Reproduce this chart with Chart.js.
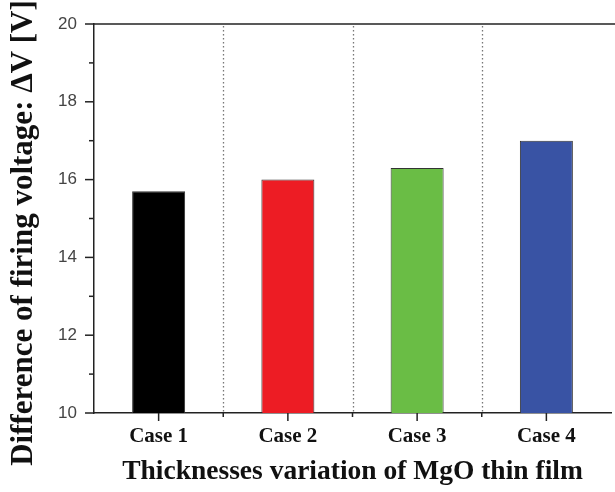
<!DOCTYPE html>
<html><head><meta charset="utf-8">
<script src="https://cdn.jsdelivr.net/npm/chart.js@4"></script>
<style>html,body{margin:0;padding:0;background:#fff}#wrap{width:615px;height:492px;position:relative}</style>
</head><body><div id="wrap"><canvas id="c"></canvas></div>
<script>
const categories = ['Case 1', 'Case 2', 'Case 3', 'Case 4'];
const deltaV = [15.7, 16.0, 16.3, 17.0];
const barColors = ['#000000', '#ED1C24', '#6ABD45', '#3953A4'];
const yTicks = [10, 12, 14, 16, 18, 20];
const yMinorTicks = [11, 13, 15, 17, 19];
const xTitle = 'Thicknesses variation of MgO thin film';
const yTitle = 'Difference of firing voltage: \u0394V [V]';

function line(ctx, x1, y1, x2, y2) {
  ctx.beginPath(); ctx.moveTo(x1, y1); ctx.lineTo(x2, y2); ctx.stroke();
}

const decor = {
  id: 'decor',
  afterDraw(chart) {
    const {ctx, chartArea: a, scales: {x, y}} = chart;
    ctx.save();
    // dotted category separators
    ctx.strokeStyle = '#777'; ctx.lineWidth = 1.3; ctx.setLineDash([1.4, 2.6]);
    for (let i = 0; i < categories.length - 1; i++) {
      const px = Math.round((x.getPixelForValue(i) + x.getPixelForValue(i + 1)) / 2) + 0.5;
      line(ctx, px, a.top + 2, px, a.bottom);
    }
    ctx.setLineDash([]);
    ctx.strokeStyle = '#222'; ctx.lineWidth = 1.5;
    // top border
    line(ctx, a.left, a.top, chart.width, a.top);
    // y ticks
    yTicks.forEach(v => { const py = y.getPixelForValue(v); line(ctx, a.left - 9, py, a.left, py); });
    yMinorTicks.forEach(v => { const py = y.getPixelForValue(v); line(ctx, a.left - 5, py, a.left, py); });
    // x ticks
    categories.forEach((c, i) => { const px = x.getPixelForValue(i); line(ctx, px, a.bottom, px, a.bottom + 8); });
    for (let i = 0; i < categories.length - 1; i++) {
      const px = (x.getPixelForValue(i) + x.getPixelForValue(i + 1)) / 2;
      line(ctx, px, a.bottom, px, a.bottom + 4);
    }
    // y title
    ctx.translate(24, 233);
    ctx.rotate(-Math.PI / 2);
    ctx.fillStyle = '#111';
    ctx.font = 'bold 31px "Liberation Serif"';
    ctx.textAlign = 'center';
    ctx.textBaseline = 'middle';
    ctx.fillText(yTitle, 0, 0);
    ctx.restore();
  }
};

new Chart(document.getElementById('c'), {
  type: 'bar',
  data: {
    labels: categories,
    datasets: [{
      data: deltaV,
      backgroundColor: barColors,
      borderColor: '#333',
      borderWidth: 1,
      barPercentage: 0.41,
      categoryPercentage: 1
    }]
  },
  options: {
    responsive: true,
    maintainAspectRatio: false,
    animation: false,
    layout: {padding: {top: 24, right: 4, left: 0, bottom: 0}},
    plugins: {legend: {display: false}, tooltip: {enabled: false}},
    scales: {
      x: {
        grid: {display: false, drawTicks: true, tickLength: 8},
        border: {display: true, color: '#222', width: 1.5},
        ticks: {padding: 3, color: '#111', font: {family: 'Liberation Serif', size: 21, weight: 'bold'}},
        title: {display: true, text: xTitle, color: '#111', padding: {top: 0, bottom: 4},
          font: {family: 'Liberation Serif', size: 27.5, weight: 'bold'}},
        afterFit(s) { s.height = 79; }
      },
      y: {
        min: 10, max: 20,
        afterBuildTicks(s) { s.ticks = yTicks.map(v => ({value: v})); },
        grid: {display: false, drawTicks: true, tickLength: 10},
        border: {display: true, color: '#222', width: 1.5},
        ticks: {padding: 7, color: '#444', font: {family: 'Liberation Sans', size: 17}},
        afterFit(s) { s.width = 94; }
      }
    }
  },
  plugins: [decor]
});
</script>
</body></html>
